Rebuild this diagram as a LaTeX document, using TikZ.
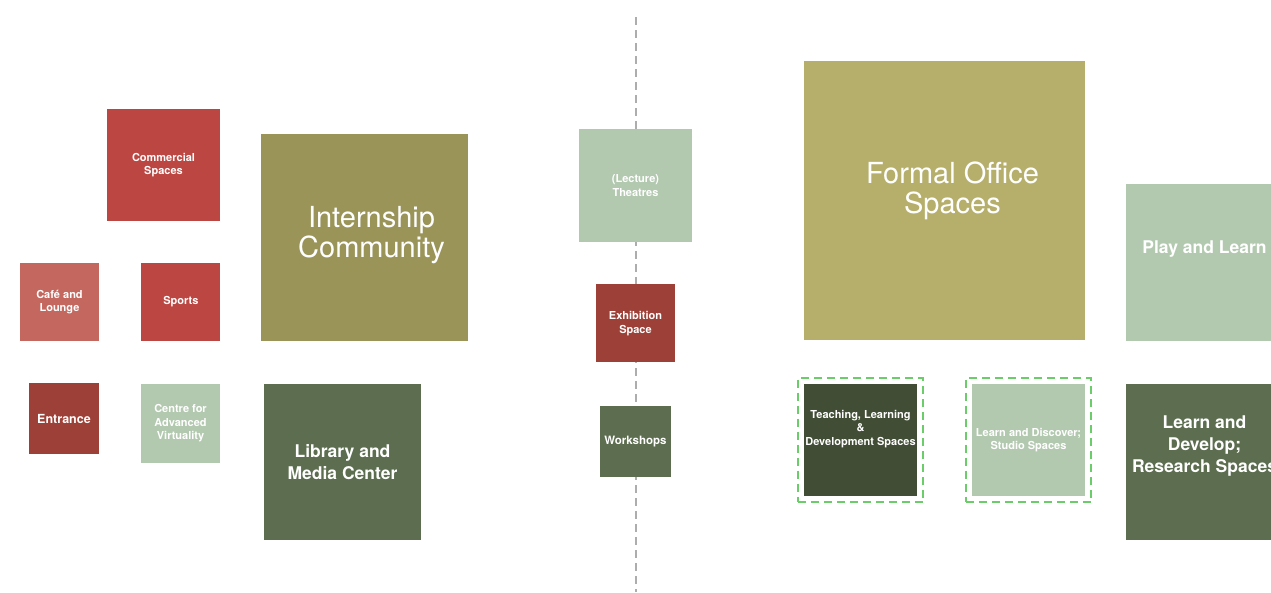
\documentclass[tikz,border=0pt]{standalone}
\usepackage{fontspec}
\setmainfont{TeX Gyre Heros}
\usetikzlibrary{positioning,fit}

\definecolor{brick}{HTML}{BC4742}
\definecolor{rosebrick}{HTML}{C4675F}
\definecolor{darkbrick}{HTML}{9D4037}
\definecolor{olive}{HTML}{9A9459}
\definecolor{khaki}{HTML}{B6AF6C}
\definecolor{sage}{HTML}{B2C9AF}
\definecolor{moss}{HTML}{5C6E4F}
\definecolor{forest}{HTML}{414D35}
\definecolor{zonegreen}{HTML}{6ACD6A}
\definecolor{divgray}{HTML}{ADADAD}

\begin{document}
\begin{tikzpicture}[x=1pt, y=-1pt, node distance=42pt]
	\tikzstyle{room}
	  =[rectangle, inner sep=0pt, text=white, align=center,
	  font=\fontsize{11}{13.5}\selectfont\bfseries]
	\tikzstyle{room_s}
	  =[room, minimum width=70pt, minimum height=71pt]
	\tikzstyle{room_m}
	  =[room, minimum width=79pt, minimum height=78pt]
	\tikzstyle{room_l}
	  =[room, minimum width=113pt, minimum height=112pt]
	\tikzstyle{room_xl}
	  =[room, minimum width=157pt, minimum height=156pt,
	  font=\fontsize{17.5}{22}\selectfont\bfseries]
	\tikzstyle{room_txt}
	  =[text=white, align=center, inner sep=0pt]
	\tikzstyle{hall_txt}
	  =[room_txt, font=\fontsize{29}{30}\selectfont]
	\tikzstyle{zone}
	  =[draw=zonegreen, dash pattern=on 8pt off 5pt,
	  line width=2pt, inner sep=6pt]

	\useasboundingbox (0,0) rectangle (1271,592);

	% divider
	\coordinate (div_top) at (636,17);
	\coordinate (div_bot) at (636,592);
	\draw[divgray, line width=2pt, dash pattern=on 8pt off 5pt]
	  (div_top)--(div_bot);

	% left group
	\node[room_l, fill=brick] (commercial)
	  at (163.5,165) {Commercial\\Spaces};
	\node[room, fill=olive, minimum size=207pt] (intern)
	  at (364.5,237.5) {};
	\node[hall_txt] (intern_t)
	  at ([xshift=7pt,yshift=2pt]intern.center) {Internship\\Community};
	\node[room_m, fill=rosebrick] (cafe)
	  at (59.5,302) {Café and\\Lounge};
	\node[room_m, fill=brick] (sports)
	  [right=of cafe] {Sports};
	\node[room_s, fill=darkbrick,
	  font=\fontsize{12.5}{15}\selectfont\bfseries] (entrance)
	  at (64,418.5) {Entrance};
	\node[room_m, fill=sage, minimum height=79pt] (virtual)
	  at (180.5,423.5) {Centre for\\Advanced\\Virtuality};
	\node[room_xl, fill=moss] (library)
	  at (342.5,462) {Library and\\Media Center};

	% middle column
	\node[room_l, fill=sage, minimum height=113pt] (theatres)
	  at (635.5,185.5) {(Lecture)\\Theatres};
	\node[room_m, fill=darkbrick] (exhibition)
	  [below=of theatres] {Exhibition\\Space};
	\node[room_s, fill=moss, minimum width=71pt,
	  font=\fontsize{11.5}{14}\selectfont\bfseries] (workshops)
	  [below=43pt of exhibition] {Workshops};

	% right group
	\node[room, fill=khaki, minimum width=281pt, minimum height=279pt] (formal)
	  at (944.5,200.5) {};
	\node[hall_txt] (formal_t)
	  at ([xshift=8pt,yshift=10pt]formal.center) {Formal Office\\Spaces};
	\node[room_xl, fill=sage, minimum height=157pt] (play)
	  at (1204.5,262.5) {};
	\node[room_txt, font=\fontsize{17.5}{22}\selectfont\bfseries] (play_t)
	  at ([yshift=13pt]play.center) {Play and Learn};
	\node[room_l, fill=forest] (teaching)
	  at (860.5,440) {};
	\node[room_txt, font=\fontsize{11}{13.5}\selectfont\bfseries] (teaching_t)
	  at ([yshift=11pt]teaching.center)
	  {Teaching, Learning\\\&\\Development Spaces};
	\node[room_l, fill=sage] (discover)
	  at (1028.5,440) {Learn and Discover;\\Studio Spaces};
	\node[room_xl, fill=moss] (research)
	  at (1204.5,462) {};
	\node[room_txt, font=\fontsize{17.5}{22}\selectfont\bfseries] (research_t)
	  at ([yshift=16pt]research.center)
	  {Learn and\\Develop;\\Research Spaces};

	% dashed zones
	\node[zone, fit=(teaching)] (teaching_zone) {};
	\node[zone, fit=(discover)] (discover_zone) {};
\end{tikzpicture}
\end{document}
